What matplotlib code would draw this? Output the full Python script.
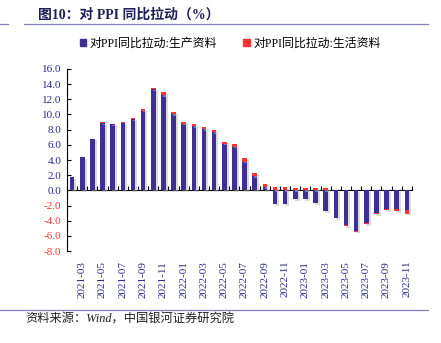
import matplotlib
matplotlib.use("Agg")
import matplotlib.pyplot as plt
import matplotlib.patheffects as pe
from matplotlib.lines import Line2D
from matplotlib.patches import Patch
import numpy as np

plt.rcParams['font.family'] = ['Liberation Serif', 'Noto Sans CJK SC', 'DejaVu Sans']

months = ['2021-02', '2021-03', '2021-04', '2021-05', '2021-06', '2021-07', '2021-08', '2021-09',
          '2021-10', '2021-11', '2021-12', '2022-01', '2022-02', '2022-03', '2022-04', '2022-05',
          '2022-06', '2022-07', '2022-08', '2022-09', '2022-10', '2022-11', '2022-12', '2023-01',
          '2023-02', '2023-03', '2023-04', '2023-05', '2023-06', '2023-07', '2023-08', '2023-09',
          '2023-10', '2023-11']
# 生产资料拉动
prod = [1.7, 4.35, 6.8, 8.85, 8.75, 8.9, 9.4, 10.5, 13.35, 12.55, 10.0, 8.8, 8.5, 8.05, 7.7, 6.15,
        5.75, 3.8, 1.9, 0.4, -1.85, -1.8, -1.15, -1.15, -1.65, -2.75, -3.65, -4.6, -5.3, -4.35,
        -2.95, -2.45, -2.4, -2.65]
# 生活资料拉动
life = [0.0, 0.05, 0.03, 0.1, 0.05, 0.1, 0.1, 0.2, 0.15, 0.4, 0.3, 0.25, 0.25, 0.25, 0.3, 0.25,
        0.35, 0.4, 0.4, 0.5, 0.5, 0.45, 0.35, 0.3, 0.25, 0.25, 0.0, -0.1, -0.15, -0.1, -0.15,
        -0.15, -0.3, -0.4]
yticks = [-8.0, -6.0, -4.0, -2.0, 0.0, 2.0, 4.0, 6.0, 8.0, 10.0, 12.0, 14.0, 16.0]

blue = '#3D2F96'
red = '#FF3333'
txt_blue = '#2B2B8C'

prod = np.array(prod)
life = np.array(life)
x = np.arange(len(months))
# stacking: positive parts stack upward, negative parts downward
life_bottom = np.where(np.sign(life) == np.sign(prod), prod, 0.0)

fig = plt.figure(figsize=(4.41, 3.43), dpi=100)
ax = fig.add_axes([0.152, 0.268, 0.782, 0.531])

shadow = [pe.SimplePatchShadow(offset=(1.5, -1.2), shadow_rgbFace='#b8b8b8', alpha=0.5), pe.Normal()]
b1 = ax.bar(x, prod, width=0.45, color=blue, zorder=2)
b2 = ax.bar(x, life, width=0.45, bottom=life_bottom, color=red, zorder=2)
for bars in (b1, b2):
    for p in bars:
        p.set_path_effects(shadow)

ax.set_xlim(-0.5, len(months) - 0.5)
ax.set_ylim(-8, 16)
ax.set_yticks(yticks)
ax.set_yticklabels(['%.1f' % v for v in yticks], fontsize=8)
for lab, v in zip(ax.get_yticklabels(), yticks):
    lab.set_color(red if v < 0 else txt_blue)
ax.tick_params(axis='y', direction='in', length=3, width=0.8, pad=4)

for s in ('top', 'right', 'bottom'):
    ax.spines[s].set_visible(False)
ax.spines['left'].set_linewidth(0.8)

ax.set_xticks(x[1::2])
ax.set_xticklabels(months[1::2], rotation=90, fontsize=8, color=txt_blue)
ax.tick_params(axis='x', length=0, pad=7)

# category axis crossing at zero
sec = ax.secondary_xaxis(8 / 24)
sec.set_xticks(np.arange(-0.5, len(months), 1.0))
sec.set_xticklabels([])
sec.tick_params(direction='in', length=3, width=0.8)
sec.spines['bottom'].set_linewidth(0.8)

# title and rules
fig.text(0.086, 0.958, '图10：对 PPI 同比拉动（%）', fontsize=10, fontweight='bold',
         color='#1F1F5A', va='center', ha='left')
fig.add_artist(Line2D([0.0, 0.018], [0.93, 0.93], color='#8080C0', lw=0.9))
fig.add_artist(Line2D([0.055, 0.971], [0.93, 0.93], color='#8080C0', lw=0.9))
fig.add_artist(Line2D([0.0, 0.97], [0.097, 0.097], color='#8080C0', lw=0.9))

handles = [Patch(color=blue), Patch(color=red)]
fig.legend(handles, ['对PPI同比拉动:生产资料', '对PPI同比拉动:生活资料'], ncol=2,
           loc='center', bbox_to_anchor=(0.522, 0.873), frameon=False, fontsize=8.6,
           handlelength=0.55, handleheight=0.55, handletextpad=0.3, columnspacing=2.2)

fig.text(0.057, 0.068, '资料来源：Wind，中国银河证券研究院', fontsize=8.8, style='italic',
         color='#222222', va='center', ha='left')

fig.savefig('out.png', dpi=100)
